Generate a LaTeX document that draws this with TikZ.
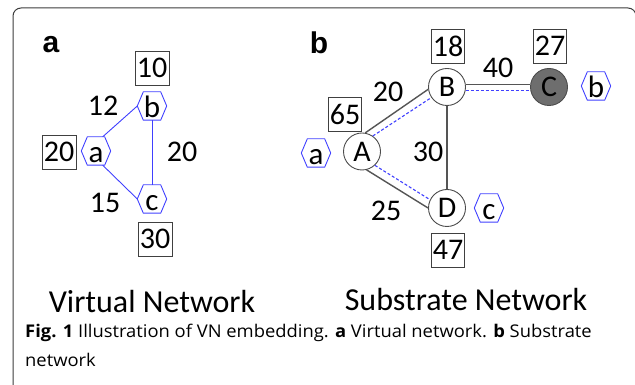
\documentclass[tikz,border=0pt]{standalone}
\usepackage{fontspec}
\setmainfont{Carlito}
\newfontfamily\panelfont{Liberation Sans}
\newfontfamily\capfont[FakeStretch=1.05]{Open Sans}
\usetikzlibrary{shapes.geometric,calc}
\definecolor{vblue}{RGB}{64,64,255}
\definecolor{lgray}{RGB}{85,85,85}
\definecolor{cfill}{RGB}{110,110,110}
\definecolor{frame}{RGB}{60,60,60}
\begin{document}
\begin{tikzpicture}[x=1pt,y=1pt,
  every node/.style={font=\fontsize{30}{30}\selectfont},
  numbox/.style={draw=black!75, line width=0.8pt, minimum width=34pt, minimum height=34pt, inner sep=1pt},
  hexline/.style={vblue, line width=0.9pt, line join=round},
  hexnode/.style={rectangle, inner sep=0pt, minimum width=29pt, minimum height=28pt,
    text height=25.5pt, text depth=2.5pt, font=\fontsize{31}{31}\selectfont,
    append after command={\pgfextra{\draw[hexline] (\tikzlastnode.west)
      -- ([xshift=6pt]\tikzlastnode.north west) -- ([xshift=-6pt]\tikzlastnode.north east)
      -- (\tikzlastnode.east) -- ([xshift=-6pt]\tikzlastnode.south east)
      -- ([xshift=6pt]\tikzlastnode.south west) -- cycle;}}},
  subnode/.style={circle, draw=black!70, line width=0.9pt, minimum size=37pt, inner sep=0pt, fill=white,
    font=\fontsize{30}{30}\selectfont},
  vlink/.style={vblue, line width=0.9pt},
  slink/.style={lgray, line width=1.4pt},
  vdash/.style={vblue, line width=1.1pt, dash pattern=on 3pt off 2pt},
  plabel/.style={font=\panelfont\bfseries\fontsize{30}{30}\selectfont, inner sep=0pt},
  title/.style={font=\fontsize{32}{32}\selectfont, anchor=base, inner sep=0pt},
  captext/.style={font=\capfont\fontsize{17.5}{17.5}\selectfont, anchor=base west, inner sep=0pt}
]
\useasboundingbox (0,0) rectangle (635,385);
\draw[frame, line width=1pt, rounded corners=8pt] (13,-5) -- (13,377) -- (636,377) -- (636,360);

% panel a
\node[plabel] (la) at (51,340) {a};
\node[hexnode] (va) at (96,234) {a};
\node[hexnode] (vb) at (152,279) {b};
\node[hexnode] (vc) at (152,186) {c};
\node[numbox] (ba) at (59,233) {20};
\node[numbox] (bb) at (152,317) {10};
\node[numbox] (bc) at (155,146) {30};
\draw[vlink] ([xshift=-8pt]va.north east) -- (vb.west);
\draw[vlink] (vb.south) -- (vc.north);
\draw[vlink] ([xshift=-8pt]va.south east) -- (vc.west);
\node (wab) at (103,279) {12};
\node (wbc) at (182,233) {20};
\node (wac) at (105,182) {15};

% panel b
\node[plabel] (lb) at (319,342) {b};
\node[subnode] (A) at (362,233.5) {A};
\node[subnode] (B) at (447,298) {B};
\node[subnode, fill=cfill] (C) at (549,298) {C};
\node[subnode] (D) at (447,177) {D};
\node[numbox, minimum width=32pt] (bA) at (345,271) {65};
\node[numbox, minimum width=32pt] (bB) at (448,339) {18};
\node[numbox, minimum width=32pt] (bC) at (550,339) {27};
\node[numbox, minimum width=32pt] (bD) at (448,135) {47};
\node[hexnode] (hA) at (316,232) {a};
\node[hexnode] (hC) at (596,299) {b};
\node[hexnode] (hD) at (489,177) {c};
\draw[slink] (A.80) -- (B.187);
\draw[vdash] (A.55) -- (B.214);
\draw[slink] (A.-76) -- (D.180);
\draw[vdash] (A.-47) -- (D.154);
\draw[slink] (B.8) -- (C.172);
\draw[vdash] (B.-12) -- (C.192);
\draw[slink] (B) -- (D);
\node (wAB) at (388,293) {20};
\node (wBC) at (498,317) {40};
\node (wBD) at (428,233) {30};
\node (wAD) at (386,174) {25};

% titles and caption
\node[title] (tv) at (152,72) {Virtual Network};
\node[title] (ts) at (466,74) {Substrate Network};
\node[captext] (cap1) at (25,47) {\textbf{Fig. 1} Illustration of VN embedding. \textbf{a} Virtual network. \textbf{b} Substrate};
\node[captext] (cap2) at (25,18) {network};
\end{tikzpicture}
\end{document}
